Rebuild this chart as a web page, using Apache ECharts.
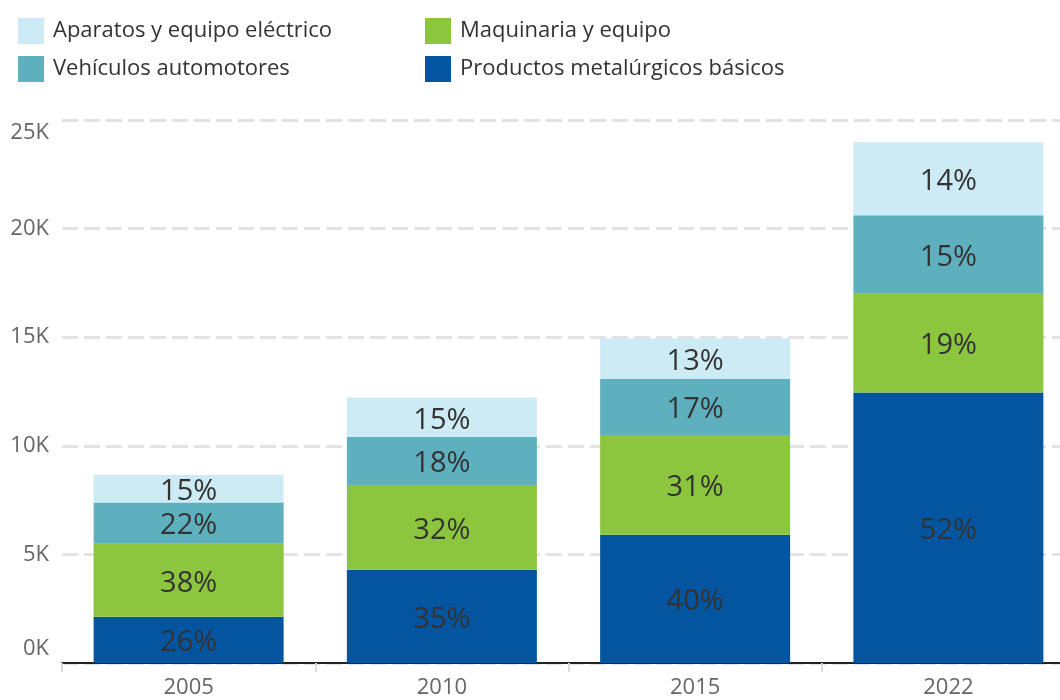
<!DOCTYPE html>
<html>
<head>
<meta charset="utf-8">
<script src="https://cdn.jsdelivr.net/npm/echarts@6/dist/echarts.min.js"></script>
<style>
    html, body { margin: 0; padding: 0; background: #fff; }
    #chart { width: 1060px; height: 700px; }
</style>
</head>
<body>
<div id="chart"></div>
<script>
// datos
const years = ['2005', '2010', '2015', '2022'];
const metalurgicos = [2130, 4290, 5900, 12450];
const maquinaria = [3360, 3910, 4600, 4550];
const vehiculos = [1900, 2210, 2580, 3620];
const aparatos = [1270, 1810, 1870, 3360];

// porcentajes mostrados en cada segmento
const pctMetalurgicos = ['26%', '35%', '40%', '52%'];
const pctMaquinaria = ['38%', '32%', '31%', '19%'];
const pctVehiculos = ['22%', '18%', '17%', '15%'];
const pctAparatos = ['15%', '15%', '13%', '14%'];

const yTicks = [0, 5000, 10000, 15000, 20000, 25000];

const FONT = '"Open Sans", "Noto Sans", sans-serif';

const chart = echarts.init(document.getElementById('chart'));

const makeSeries = (name, data, labels, color) => ({
    name: name,
    type: 'bar',
    stack: 'total',
    barWidth: 190,
    data: data,
    itemStyle: { color: color },
    label: {
        show: true,
        position: 'inside',
        offset: [0, 3],
        fontFamily: FONT,
        fontSize: 29,
        color: '#333',
        formatter: p => labels[p.dataIndex]
    },
    emphasis: { disabled: true }
});

const legendBase = {
    top: 18,
    padding: 0,
    orient: 'vertical',
    itemWidth: 26,
    itemHeight: 26,
    itemGap: 12,
    icon: 'rect',
    textStyle: { fontFamily: FONT, fontSize: 22, color: '#333', padding: [0, 0, 0, 4] }
};

const option = {
    animation: false,
    textStyle: { fontFamily: FONT },
    legend: [
        Object.assign({}, legendBase, {
            left: 18,
            data: ['Aparatos y equipo eléctrico', 'Vehículos automotores']
        }),
        Object.assign({}, legendBase, {
            left: 425,
            data: ['Maquinaria y equipo', 'Productos metalúrgicos básicos']
        })
    ],
    grid: {
        left: 62,
        top: 120,
        right: -15,
        bottom: 37,
        outerBoundsMode: 'none',
        containLabel: false
    },
    xAxis: {
        type: 'category',
        data: years,
        axisLine: { show: true, lineStyle: { color: '#222', width: 2 } },
        axisTick: { show: true, length: 9, lineStyle: { color: '#ddd', width: 2 } },
        axisLabel: { fontFamily: FONT, fontSize: 22, color: '#666', margin: 14 }
    },
    yAxis: {
        type: 'value',
        min: yTicks[0],
        max: yTicks[yTicks.length - 1],
        interval: 5000,
        axisLine: { show: false },
        axisTick: { show: false },
        splitLine: {
            show: true,
            lineStyle: { color: '#e3e3e3', width: 3, type: [16, 6] }
        },
        axisLabel: {
            fontFamily: FONT,
            fontSize: 22,
            color: '#666',
            margin: 13,
            formatter: v => {
                const t = v / 1000 + 'K';
                if (v === yTicks[0]) return '{lo|' + t + '}';
                if (v === yTicks[yTicks.length - 1]) return '{hi|' + t + '}';
                return t;
            },
            rich: {
                lo: { fontFamily: FONT, fontSize: 22, color: '#666', padding: [0, 0, 28, 0] },
                hi: { fontFamily: FONT, fontSize: 22, color: '#666', padding: [26, 0, 0, 0] }
            }
        }
    },
    series: [
        makeSeries('Productos metalúrgicos básicos', metalurgicos, pctMetalurgicos, '#04559f'),
        makeSeries('Maquinaria y equipo', maquinaria, pctMaquinaria, '#8cc63f'),
        makeSeries('Vehículos automotores', vehiculos, pctVehiculos, '#5eb0be'),
        makeSeries('Aparatos y equipo eléctrico', aparatos, pctAparatos, '#cdebf5')
    ]
};

chart.setOption(option);
</script>
</body>
</html>
